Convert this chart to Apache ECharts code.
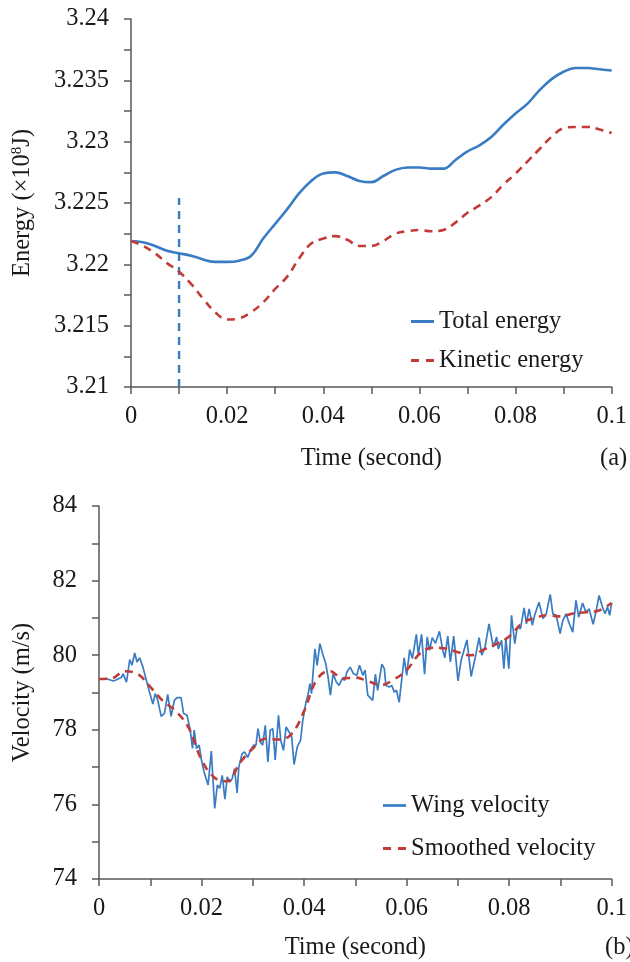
<!DOCTYPE html>
<html>
<head>
<meta charset="utf-8">
<script src="https://cdn.jsdelivr.net/npm/echarts@6/dist/echarts.min.js"></script>
<style>
html,body{margin:0;padding:0;background:#fff;}
#chart{width:630px;height:962px;}
</style>
</head>
<body>
<div id="chart"></div>
<script>
// ---- Panel (a): energy ----
const energyTime = [0,0.0025,0.005,0.0075,0.01,0.0125,0.015,0.0175,0.02,0.0225,0.025,0.0275,0.03,0.0325,0.035,0.0375,0.04,0.0425,0.045,0.0475,0.05,0.0525,0.055,0.0575,0.06,0.0625,0.065,0.0675,0.07,0.0725,0.075,0.0775,0.08,0.0825,0.085,0.0875,0.09,0.0925,0.095,0.0975,0.1];
const totalEnergy = [3.2219,3.2218,3.2215,3.2211,3.2209,3.2207,3.2204,3.2202,3.2202,3.2203,3.2207,3.2221,3.2233,3.2245,3.2258,3.2268,3.2274,3.2275,3.2272,3.2268,3.2267,3.2272,3.2277,3.2279,3.2279,3.2278,3.2278,3.2285,3.2292,3.2297,3.2304,3.2314,3.2323,3.2331,3.2342,3.2351,3.2357,3.2360,3.2360,3.2359,3.2358];
const kineticEnergy = [3.2219,3.2215,3.2209,3.2201,3.2194,3.2184,3.2172,3.2161,3.2155,3.2156,3.2161,3.2169,3.2180,3.2190,3.2205,3.2217,3.2221,3.2223,3.2220,3.2215,3.2215,3.2219,3.2225,3.2227,3.2228,3.2227,3.2228,3.2234,3.2242,3.2248,3.2255,3.2265,3.2274,3.2284,3.2294,3.2304,3.2311,3.2312,3.2312,3.2310,3.2307];
const markerTime = [0.01, 0.01];
const markerEnergy = [3.21, 3.2254];

// ---- Panel (b): velocity ----
const wingTime = [0,0.00149,0.00277,0.00342,0.00439,0.0047,0.00536,0.006,0.00644,0.00696,0.00741,0.00793,0.00857,0.00923,0.00986,0.0105,0.01097,0.01147,0.01213,0.01277,0.0134,0.01406,0.0147,0.01522,0.016,0.0165,0.01716,0.0178,0.01824,0.01857,0.01901,0.01954,0.01998,0.0205,0.02128,0.02191,0.02257,0.02308,0.02354,0.02404,0.02456,0.02501,0.02553,0.02598,0.02644,0.02694,0.02727,0.02791,0.02838,0.02901,0.02954,0.03017,0.03062,0.03101,0.03147,0.03191,0.03244,0.03294,0.0334,0.03391,0.03437,0.03501,0.03545,0.03598,0.0365,0.03708,0.03758,0.03805,0.03868,0.03932,0.03971,0.04037,0.04081,0.04114,0.04145,0.04211,0.04255,0.04308,0.04371,0.04424,0.04468,0.04513,0.04565,0.04629,0.04681,0.04745,0.04791,0.04836,0.04899,0.04965,0.05029,0.05081,0.05145,0.0519,0.05242,0.05338,0.05391,0.05435,0.05518,0.05565,0.05596,0.05662,0.05712,0.05758,0.05803,0.05855,0.05952,0.06002,0.0606,0.06112,0.0619,0.06228,0.06292,0.0635,0.06402,0.06447,0.06499,0.06563,0.0664,0.06706,0.06745,0.06803,0.06853,0.06919,0.07002,0.07066,0.07176,0.07259,0.0735,0.07414,0.07466,0.0753,0.07607,0.07692,0.07756,0.07789,0.07853,0.07897,0.07936,0.07994,0.08046,0.0811,0.08157,0.08221,0.08292,0.08337,0.08389,0.08453,0.08497,0.08582,0.0866,0.08723,0.08801,0.08853,0.08917,0.08994,0.09046,0.0911,0.09162,0.0924,0.09304,0.09356,0.09433,0.09497,0.09561,0.09638,0.09691,0.09754,0.0982,0.0987,0.09917,0.09961,0.1];
const wingVelocity = [79.36,79.37,79.31,79.34,79.41,79.50,79.28,79.88,79.73,80.06,79.82,79.93,79.68,79.33,79.01,78.69,78.97,78.79,78.36,78.44,78.95,78.36,78.79,78.86,78.86,78.44,78.39,77.99,77.50,77.99,77.50,77.59,77.19,76.87,76.52,77.43,75.89,76.52,76.43,76.78,76.14,76.74,76.60,76.69,76.96,76.31,77.00,77.36,77.41,77.26,77.45,77.59,77.59,78.03,77.67,77.59,78.12,77.14,77.99,78.03,77.19,78.39,77.72,77.45,78.08,77.94,77.81,77.07,77.54,77.72,78.21,78.74,78.97,79.24,78.97,80.17,79.73,80.31,80.00,79.77,79.41,78.93,79.50,79.28,79.19,79.37,79.33,79.55,79.68,79.50,79.46,79.73,79.46,79.60,78.93,78.79,79.49,79.06,79.76,79.64,79.19,79.15,79.19,79.01,79.06,78.74,79.93,79.46,80.15,79.91,80.56,80.02,80.56,79.49,80.49,80.13,80.47,80.32,80.64,80.13,79.93,80.51,79.82,80.51,79.31,79.88,80.41,79.43,80.02,80.47,80.00,80.22,80.84,80.22,80.49,80.17,80.40,79.64,80.44,79.64,81.07,80.31,80.75,80.71,81.27,80.84,81.24,80.80,81.07,81.42,80.98,81.11,81.63,81.11,81.07,80.58,80.93,81.11,80.89,80.62,81.47,81.02,81.40,81.15,81.24,80.83,81.15,81.60,81.29,81.11,81.29,81.07,81.40];
const smoothTime = [0,0.0025,0.005,0.0075,0.01,0.0125,0.015,0.0175,0.02,0.0225,0.025,0.0275,0.03,0.0325,0.035,0.0375,0.04,0.0425,0.045,0.0475,0.05,0.0525,0.055,0.0575,0.06,0.0625,0.065,0.0675,0.07,0.0725,0.075,0.0775,0.08,0.0825,0.085,0.0875,0.09,0.0925,0.095,0.0975,0.1];
const smoothVelocity = [79.36,79.38,79.57,79.50,79.15,78.77,78.50,78.05,77.20,76.72,76.62,77.12,77.50,77.76,77.74,77.88,78.50,79.35,79.58,79.38,79.40,79.30,79.20,79.35,79.60,80.03,80.20,80.18,80.08,80.00,80.15,80.30,80.50,80.85,81.00,81.07,81.04,81.12,81.15,81.20,81.40];

// ---- Names / labels ----
const energySeriesNames = ['Total energy', 'Kinetic energy'];
const velocitySeriesNames = ['Wing velocity', 'Smoothed velocity'];
const panelTags = ['(a)', '(b)'];

const pairs = (xs, ys) => xs.map((x, i) => [x, ys[i]]);

const FONT = '"Liberation Serif", "Times New Roman", serif';
const TXT = '#1a1a1a';
const AX = '#595959';
const BLUE = '#3a7cc3';
const RED = '#c23b37';
const FS = 24.5;

// legend sample icons: solid bar and two dashes
const SOLID_ICON = 'path://M0,0 H23 V3 H0 Z';
const DASH_ICON = 'path://M0,0 H8 V3 H0 Z M15,0 H23 V3 H15 Z';

function xAxisCfg(gridIndex, nameGap) {
  return {
    type: 'value', gridIndex, min: 0, max: 0.1, interval: 0.02,
    name: 'Time (second)', nameLocation: 'middle', nameGap,
    nameTextStyle: { fontFamily: FONT, fontSize: FS, color: TXT },
    axisLine: { show: true, lineStyle: { color: AX, width: 1.5 } },
    axisTick: { show: true, length: 7, lineStyle: { color: AX, width: 1.5 } },
    minorTick: { show: true, splitNumber: 2, length: 7, lineStyle: { color: AX, width: 1.5 } },
    splitLine: { show: false },
    axisLabel: { margin: 17, fontFamily: FONT, fontSize: FS, color: TXT,
      formatter: v => String(+v.toFixed(2)) }
  };
}

const chart = echarts.init(document.getElementById('chart'), null, { renderer: 'canvas' });
chart.setOption({
  backgroundColor: '#fff',
  animation: false,
  grid: [
    { left: 131, top: 19, width: 484, height: 368 },
    { left: 99, top: 506, width: 517, height: 373 }
  ],
  xAxis: [xAxisCfg(0, 59), xAxisCfg(1, 56)],
  yAxis: [
    {
      type: 'value', gridIndex: 0, min: 3.21, max: 3.24, interval: 0.005,
      name: 'Energy (×10{sup|8}J)', nameLocation: 'middle', nameGap: 96,
      nameTextStyle: { fontFamily: FONT, fontSize: FS, color: TXT,
        rich: { sup: { fontFamily: FONT, fontSize: 15, color: TXT, verticalAlign: 'top', padding: [0, 0, 10, 0] } } },
      axisLine: { show: true, lineStyle: { color: AX, width: 1.5 } },
      axisTick: { show: true, length: 7, lineStyle: { color: AX, width: 1.5 } },
      minorTick: { show: true, splitNumber: 2, length: 7, lineStyle: { color: AX, width: 1.5 } },
      splitLine: { show: false },
      axisLabel: { margin: 22, fontFamily: FONT, fontSize: FS, color: TXT,
        formatter: v => String(+v.toFixed(3)) }
    },
    {
      type: 'value', gridIndex: 1, min: 74, max: 84, interval: 2,
      name: 'Velocity (m/s)', nameLocation: 'middle', nameGap: 64,
      nameTextStyle: { fontFamily: FONT, fontSize: FS, color: TXT },
      axisLine: { show: true, lineStyle: { color: AX, width: 1.5 } },
      axisTick: { show: true, length: 7, lineStyle: { color: AX, width: 1.5 } },
      minorTick: { show: true, splitNumber: 2, length: 7, lineStyle: { color: AX, width: 1.5 } },
      splitLine: { show: false },
      axisLabel: { margin: 22, fontFamily: FONT, fontSize: FS, color: TXT }
    }
  ],
  legend: [
    {
      data: [
        { name: energySeriesNames[0], icon: SOLID_ICON },
        { name: energySeriesNames[1], icon: DASH_ICON }
      ],
      orient: 'vertical', left: 411, top: 309, padding: 0,
      itemWidth: 23, itemHeight: 3, itemGap: 14,
      textStyle: { fontFamily: FONT, fontSize: FS, color: TXT, lineHeight: 24 }
    },
    {
      data: [
        { name: velocitySeriesNames[0], icon: 'path://M0,0 H17 V2 H0 Z' },
        { name: velocitySeriesNames[1], icon: DASH_ICON }
      ],
      orient: 'vertical', left: 383, top: 793, padding: 0,
      itemWidth: 23, itemHeight: 3, itemGap: 18,
      textStyle: { fontFamily: FONT, fontSize: FS, color: TXT, lineHeight: 24 }
    }
  ],
  graphic: [
    { type: 'text', left: 600, top: 446, style: { text: panelTags[0], font: `${FS}px ${FONT}`, fill: TXT } },
    { type: 'text', left: 605, top: 935, style: { text: panelTags[1], font: `${FS}px ${FONT}`, fill: TXT } }
  ],
  series: [
    {
      name: energySeriesNames[0], type: 'line', xAxisIndex: 0, yAxisIndex: 0,
      data: pairs(energyTime, totalEnergy), symbol: 'none', smooth: 0.4,
      lineStyle: { color: BLUE, width: 2.6 }, itemStyle: { color: BLUE }
    },
    {
      name: energySeriesNames[1], type: 'line', xAxisIndex: 0, yAxisIndex: 0,
      data: pairs(energyTime, kineticEnergy), symbol: 'none', smooth: 0.4,
      lineStyle: { color: RED, width: 2.6, type: [8, 6] }, itemStyle: { color: RED }
    },
    {
      name: 'marker', type: 'line', xAxisIndex: 0, yAxisIndex: 0,
      data: pairs(markerTime, markerEnergy), symbol: 'none',
      lineStyle: { color: BLUE, width: 2.4, type: [8, 6] }, itemStyle: { color: BLUE }, z: 1
    },
    {
      name: velocitySeriesNames[0], type: 'line', xAxisIndex: 1, yAxisIndex: 1,
      data: pairs(wingTime, wingVelocity), symbol: 'none',
      lineStyle: { color: BLUE, width: 1.7 }, itemStyle: { color: BLUE }
    },
    {
      name: velocitySeriesNames[1], type: 'line', xAxisIndex: 1, yAxisIndex: 1,
      data: pairs(smoothTime, smoothVelocity), symbol: 'none', smooth: 0.4,
      lineStyle: { color: RED, width: 2.6, type: [8, 6] }, itemStyle: { color: RED }, z: 3
    }
  ]
});
</script>
</body>
</html>
